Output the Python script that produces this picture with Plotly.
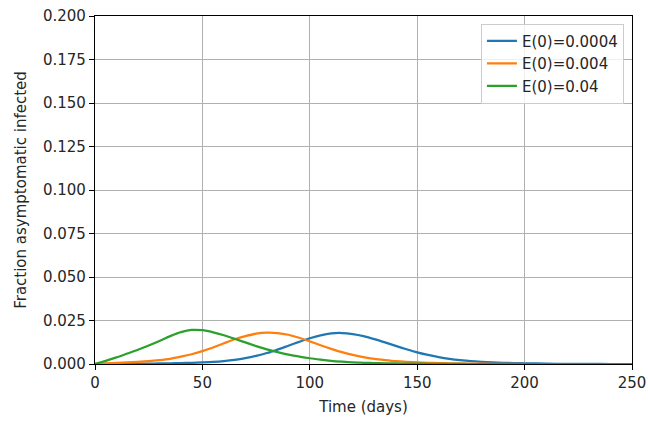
import plotly.graph_objects as go

# Time grid (days) and fraction of asymptomatic infected for each initial exposed fraction
days = [0, 5, 10, 15, 20, 25, 30, 35, 40, 45, 50, 55, 60, 65, 70, 75, 80, 85, 90, 95,
        100, 105, 110, 115, 120, 125, 130, 135, 140, 145, 150, 155, 160, 165, 170, 175,
        180, 185, 190, 195, 200, 210, 220, 230, 240, 250]

a_e0_0004 = [0.0000, 0.0000, 0.0001, 0.0001, 0.0002, 0.0002, 0.0003, 0.0004, 0.0005, 0.0007,
             0.0009, 0.0012, 0.0017, 0.0024, 0.0034, 0.0047, 0.0063, 0.0083, 0.0105, 0.0127,
             0.0148, 0.0165, 0.0176, 0.0178, 0.0172, 0.0160, 0.0143, 0.0124, 0.0104, 0.0085,
             0.0067, 0.0052, 0.0040, 0.0030, 0.0022, 0.0016, 0.0012, 0.0009, 0.0007, 0.0005,
             0.0004, 0.0002, 0.0001, 0.0001, 0.0000, 0.0000]

a_e0_004 = [0.0000, 0.0003, 0.0006, 0.0009, 0.0012, 0.0016, 0.0022, 0.0030, 0.0042, 0.0056,
            0.0074, 0.0095, 0.0119, 0.0142, 0.0160, 0.0174, 0.0180, 0.0178, 0.0168, 0.0151,
            0.0130, 0.0108, 0.0087, 0.0068, 0.0052, 0.0039, 0.0029, 0.0022, 0.0016, 0.0012,
            0.0009, 0.0007, 0.0005, 0.0004, 0.0003, 0.0002, 0.0002, 0.0001, 0.0001, 0.0001,
            0.0000, 0.0000, 0.0000, 0.0000, 0.0000, 0.0000]

a_e0_04 = [0.0000, 0.0018, 0.0038, 0.0060, 0.0082, 0.0106, 0.0132, 0.0160, 0.0183, 0.0196,
           0.0194, 0.0182, 0.0165, 0.0145, 0.0124, 0.0103, 0.0084, 0.0068, 0.0054, 0.0043,
           0.0033, 0.0025, 0.0018, 0.0013, 0.0009, 0.0007, 0.0005, 0.0004, 0.0003, 0.0002,
           0.0002, 0.0001, 0.0001, 0.0001, 0.0001, 0.0000, 0.0000, 0.0000, 0.0000, 0.0000,
           0.0000, 0.0000, 0.0000, 0.0000, 0.0000, 0.0000]

series = [
    ("E(0)=0.0004", a_e0_0004, "#1f77b4"),
    ("E(0)=0.004", a_e0_004, "#ff7f0e"),
    ("E(0)=0.04", a_e0_04, "#2ca02c"),
]

x_ticks = [0, 50, 100, 150, 200, 250]
y_ticks = [0.000, 0.025, 0.050, 0.075, 0.100, 0.125, 0.150, 0.175, 0.200]

fig = go.Figure()
for name, vals, color in series:
    fig.add_trace(go.Scatter(
        x=days, y=vals, name=name, mode="lines",
        line=dict(color=color, width=2.25, shape="spline", smoothing=0.8),
    ))

axis_common = dict(
    showgrid=True, gridcolor="#b0b0b0", gridwidth=1.2,
    showline=True, linecolor="black", linewidth=1.2, mirror=True,
    ticks="outside", ticklen=5, tickwidth=1.2, tickcolor="black",
    zeroline=False, automargin=False,
    tickfont=dict(family="DejaVu Sans", size=15, color="#262626"),
)

fig.update_layout(
    width=648, height=423,
    margin=dict(l=95, r=16, t=16, b=59),
    paper_bgcolor="white", plot_bgcolor="white",
    font=dict(family="DejaVu Sans", size=15, color="#262626"),
    xaxis=dict(range=[0, 250], tickvals=x_ticks,
               title=dict(text="Time (days)", standoff=10, font=dict(size=15)),
               **axis_common),
    yaxis=dict(range=[0, 0.2], tickvals=y_ticks, tickformat=".3f",
               title=dict(text="Fraction asymptomatic infected", standoff=12, font=dict(size=15)),
               **axis_common),
    legend=dict(
        x=0.985, y=0.978, xanchor="right", yanchor="top",
        bgcolor="rgba(255,255,255,0.8)", bordercolor="#cccccc", borderwidth=1,
        font=dict(family="DejaVu Sans", size=15, color="#262626"),
    ),
    showlegend=True,
)

fig.write_html("out.html")
